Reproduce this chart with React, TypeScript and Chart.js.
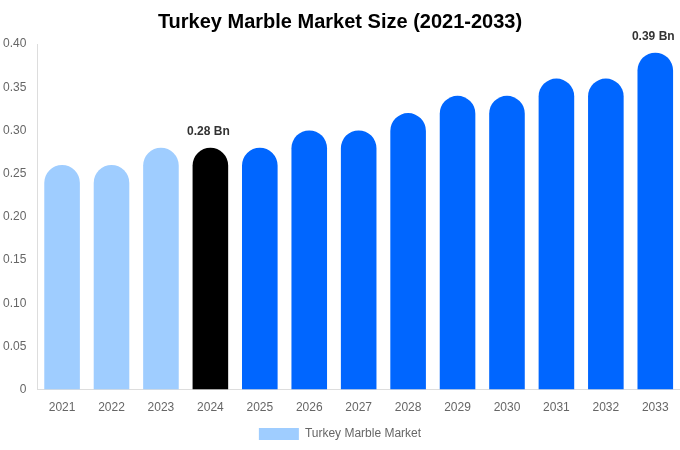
import React, { useEffect, useRef } from "react";
import { Chart, registerables } from "chart.js";

Chart.register(...registerables);

const years = ["2021", "2022", "2023", "2024", "2025", "2026", "2027", "2028", "2029", "2030", "2031", "2032", "2033"];
const marketSize = [0.26, 0.26, 0.28, 0.28, 0.28, 0.3, 0.3, 0.32, 0.34, 0.34, 0.36, 0.36, 0.39];
const barColors = [
  "#9FCDFF", "#9FCDFF", "#9FCDFF", "#000000",
  "#0066FF", "#0066FF", "#0066FF", "#0066FF", "#0066FF",
  "#0066FF", "#0066FF", "#0066FF", "#0066FF",
];
const labelledYears = ["2024", "2033"];

// draws the "x.xx Bn" labels above the marked bars
const valueLabels = {
  id: "valueLabels",
  afterDatasetsDraw(chart: any) {
    const { ctx } = chart;
    const meta = chart.getDatasetMeta(0);
    ctx.save();
    ctx.font = "bold 12px 'Liberation Sans', Arial, sans-serif";
    ctx.fillStyle = "#333";
    ctx.textAlign = "center";
    ctx.textBaseline = "bottom";
    meta.data.forEach((bar: any, i: number) => {
      if (labelledYears.includes(years[i])) {
        ctx.fillText(marketSize[i].toFixed(2) + " Bn", bar.x - 2, bar.y - 10);
      }
    });
    ctx.restore();
  },
};

const App = () => {
  const canvasRef = useRef<HTMLCanvasElement>(null);

  useEffect(() => {
    document.body.style.margin = "0";
    if (!canvasRef.current) return;
    const ctx = canvasRef.current.getContext("2d");
    if (!ctx) return;

    const chart = new Chart(ctx, {
      type: "bar",
      data: {
        labels: years,
        datasets: [{
          label: "Turkey Marble Market",
          data: marketSize,
          backgroundColor: barColors,
          borderRadius: { topLeft: 18, topRight: 18, bottomLeft: 0, bottomRight: 0 },
          borderSkipped: false,
          barPercentage: 0.9,
          categoryPercentage: 0.8,
        }],
      },
      options: {
        animation: false,
        responsive: true,
        maintainAspectRatio: false,
        layout: { padding: { top: 0, right: 0, left: 0, bottom: 0 } },
        font: { family: "'Liberation Sans', Arial, sans-serif" },
        plugins: {
          title: {
            display: true,
            text: "Turkey Marble Market Size (2021-2033)",
            color: "#000",
            font: { size: 20, weight: "bold", family: "'Liberation Sans', Arial, sans-serif" },
            padding: { top: 10, bottom: 10 },
          },
          legend: {
            position: "bottom",
            labels: {
              color: "#666",
              boxWidth: 40,
              boxHeight: 12,
              font: { size: 12, family: "'Liberation Sans', Arial, sans-serif" },
              generateLabels: () => [{
                text: "Turkey Marble Market",
                fillStyle: "#9FCDFF",
                strokeStyle: "#9FCDFF",
                lineWidth: 0,
                fontColor: "#666",
                hidden: false,
                datasetIndex: 0,
              }],
            },
          },
          tooltip: { enabled: false },
        },
        scales: {
          x: {
            grid: { display: false },
            border: { color: "#ddd" },
            ticks: { color: "#666", font: { size: 12, family: "'Liberation Sans', Arial, sans-serif" } },
          },
          y: {
            min: 0,
            max: 0.4,
            grid: { display: false },
            border: { color: "#ddd" },
            ticks: {
              stepSize: 0.05,
              color: "#666",
              font: { size: 12, family: "'Liberation Sans', Arial, sans-serif" },
              callback: (v: any) => (Number(v) === 0 ? "0" : Number(v).toFixed(2)),
            },
          },
        },
      },
      plugins: [valueLabels],
    });

    return () => {
      chart.destroy();
    };
  }, []);

  return (
    <div style={{ width: "680px", height: "450px", position: "relative" }}>
      <canvas ref={canvasRef}></canvas>
    </div>
  );
};

export default App;
